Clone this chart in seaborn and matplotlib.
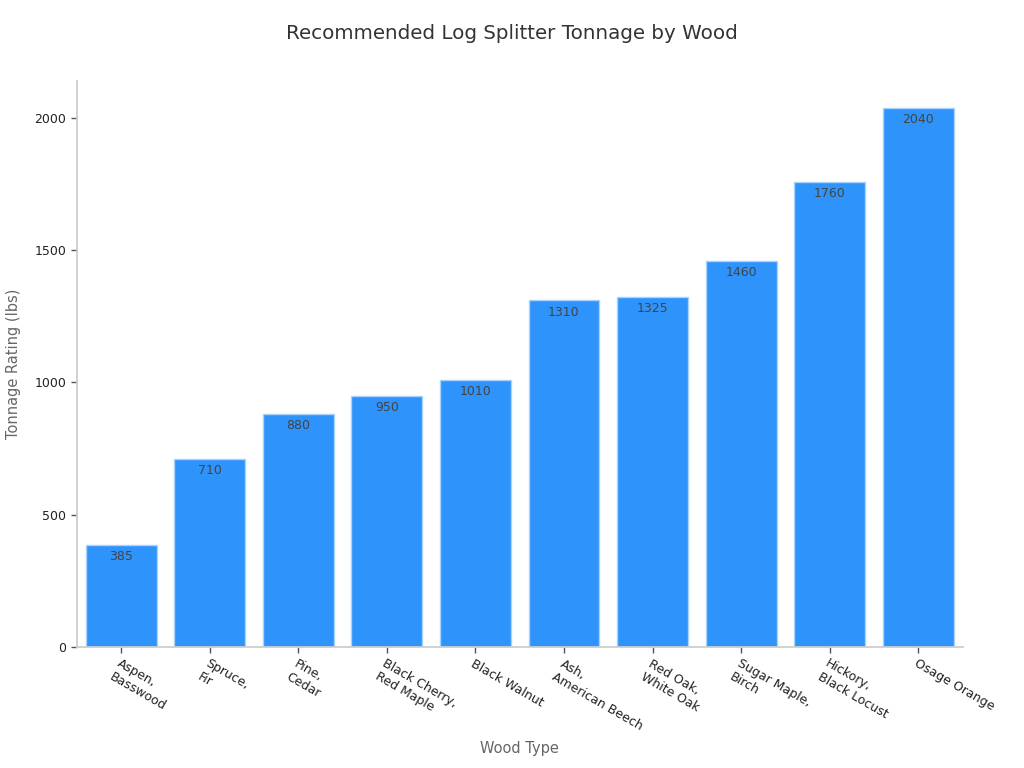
import pandas as pd
import seaborn as sns
import matplotlib.pyplot as plt

# data
woods = ["Aspen,\nBasswood", "Spruce,\nFir", "Pine,\nCedar", "Black Cherry,\nRed Maple",
         "Black Walnut", "Ash,\nAmerican Beech", "Red Oak,\nWhite Oak", "Sugar Maple,\nBirch",
         "Hickory,\nBlack Locust", "Osage Orange"]
tonnage = [385, 710, 880, 950, 1010, 1310, 1325, 1460, 1760, 2040]

df = pd.DataFrame({"wood": woods, "tonnage": tonnage})

sns.set_theme(style="white")
plt.rcParams['font.family'] = ['DejaVu Sans']

fig, ax = plt.subplots(figsize=(10.24, 7.68), dpi=100)
sns.barplot(data=df, x="wood", y="tonnage", color="#2E93FA", saturation=1,
            width=0.8, edgecolor="#A8D3FC", linewidth=1, ax=ax)

ax.bar_label(ax.containers[0], padding=-13, fontsize=9, color="#444444")

ax.set_xlim(-0.5, 9.5)
ax.set_ylim(0, 2142)
ax.set_yticks([0, 500, 1000, 1500, 2000])

fig.suptitle("Recommended Log Splitter Tonnage by Wood", fontsize=14.3, color="#333333",
             x=0.5, y=0.957, va="center")
ax.set_xlabel("Wood Type", fontsize=10.5, color="#666666", labelpad=6)
ax.set_ylabel("Tonnage Rating (lbs)", fontsize=10.5, color="#666666", labelpad=10)

ax.tick_params(axis="both", bottom=True, left=True, length=4, width=1, color="#555555",
               labelsize=9, labelcolor="#222222")
for lab in ax.get_xticklabels():
    lab.set_rotation(-30)
    lab.set_ha("left")
    lab.set_rotation_mode("anchor")

for side in ["top", "right"]:
    ax.spines[side].set_visible(False)
for side in ["left", "bottom"]:
    ax.spines[side].set_color("#cccccc")

plt.subplots_adjust(left=0.075, right=0.94, top=0.895, bottom=0.158)
plt.savefig("out.png", dpi=100)
